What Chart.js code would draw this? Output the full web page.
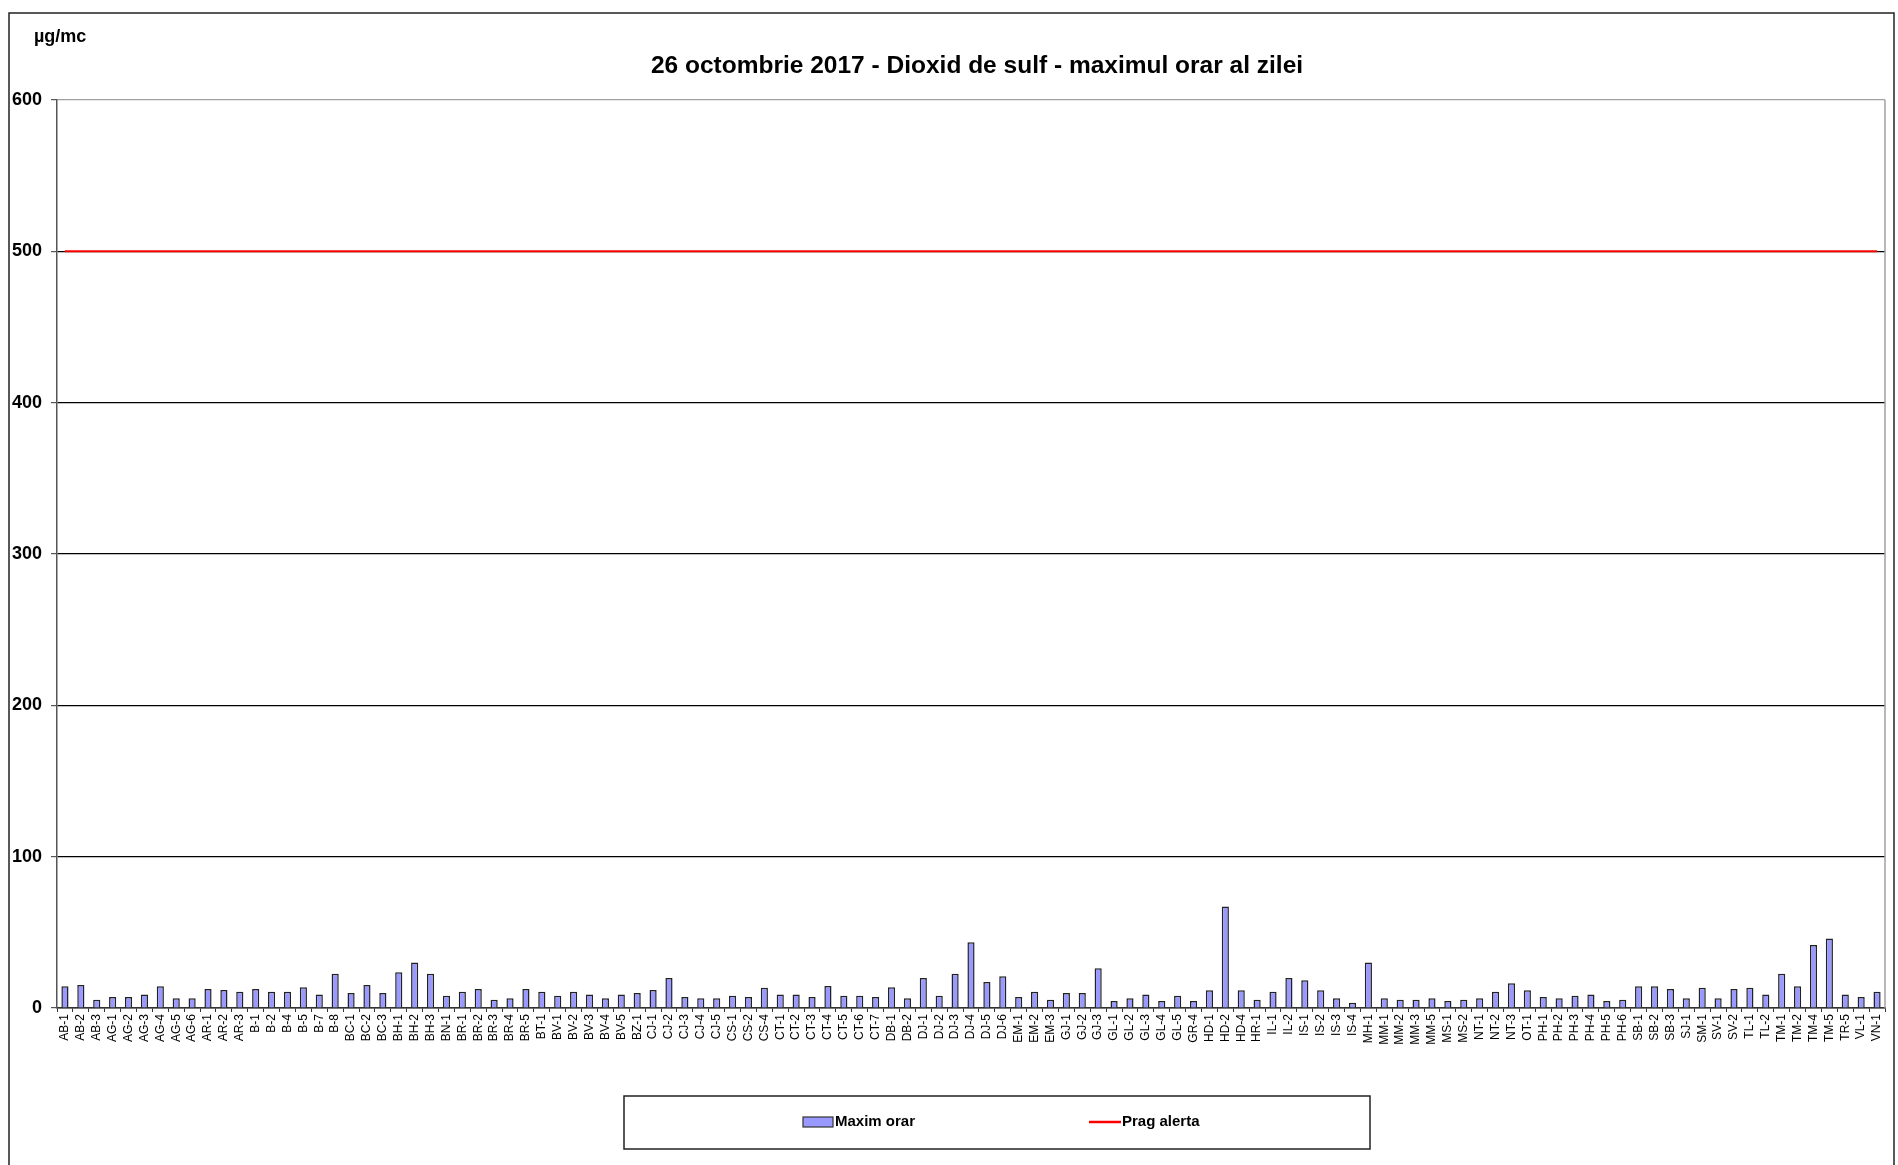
<!DOCTYPE html>
<html>
<head>
<meta charset="utf-8">
<title>Dioxid de sulf - maximul orar al zilei</title>
<script src="https://cdn.jsdelivr.net/npm/chart.js@4.4.0/dist/chart.umd.min.js"></script>
<style>
  html, body { margin: 0; padding: 0; background: #fff; }
  #wrap { width: 1898px; height: 1165px; position: relative; }
</style>
</head>
<body>
<div id="wrap"><canvas id="so2Chart" width="1898" height="1165"></canvas></div>
<script>
// statii de monitorizare (axa X)
const stations = [
  'AB-1','AB-2','AB-3','AG-1','AG-2','AG-3','AG-4','AG-5','AG-6','AR-1','AR-2','AR-3',
  'B-1','B-2','B-4','B-5','B-7','B-8','BC-1','BC-2','BC-3','BH-1','BH-2','BH-3','BN-1',
  'BR-1','BR-2','BR-3','BR-4','BR-5','BT-1','BV-1','BV-2','BV-3','BV-4','BV-5','BZ-1',
  'CJ-1','CJ-2','CJ-3','CJ-4','CJ-5','CS-1','CS-2','CS-4','CT-1','CT-2','CT-3','CT-4',
  'CT-5','CT-6','CT-7','DB-1','DB-2','DJ-1','DJ-2','DJ-3','DJ-4','DJ-5','DJ-6','EM-1',
  'EM-2','EM-3','GJ-1','GJ-2','GJ-3','GL-1','GL-2','GL-3','GL-4','GL-5','GR-4','HD-1',
  'HD-2','HD-4','HR-1','IL-1','IL-2','IS-1','IS-2','IS-3','IS-4','MH-1','MM-1','MM-2',
  'MM-3','MM-5','MS-1','MS-2','NT-1','NT-2','NT-3','OT-1','PH-1','PH-2','PH-3','PH-4',
  'PH-5','PH-6','SB-1','SB-2','SB-3','SJ-1','SM-1','SV-1','SV-2','TL-1','TL-2','TM-1',
  'TM-2','TM-4','TM-5','TR-5','VL-1','VN-1'
];

// maxim orar (ug/mc)
const maximOrar = [
  14.3, 15.2, 5.5, 7.3, 7.3, 9, 14.3, 6.4, 6.4, 12.6, 11.9, 10.8,
  12.6, 10.8, 10.8, 13.7, 9, 22.7, 9.9, 15.2, 9.9, 23.6, 30, 22.7, 8.1,
  10.8, 12.6, 5.5, 6.4, 12.6, 10.8, 8.1, 10.8, 9, 6.4, 9, 9.9,
  11.9, 19.8, 7.3, 6.4, 6.4, 8.1, 7.3, 13.4, 9, 9, 7.3, 14.5,
  8.1, 8.1, 7.3, 13.7, 6.4, 19.8, 8.1, 22.7, 43.4, 17.2, 20.9, 7.3,
  10.8, 5.5, 9.9, 9.9, 26.2, 4.6, 6.4, 9, 4.6, 8.1, 4.6, 11.7,
  67, 11.7, 5.5, 10.8, 19.8, 18.3, 11.7, 6.4, 3.5, 30, 6.4, 5.5,
  5.5, 6.4, 4.6, 5.5, 6.4, 10.8, 16.3, 11.7, 7.3, 6.4, 8.1, 9,
  4.6, 5.5, 14.3, 14.3, 12.6, 6.4, 13.4, 6.4, 12.6, 13.4, 9, 22.7,
  14.3, 41.6, 46, 9, 7.3, 10.8
];

// prag de alerta
const pragAlerta = stations.map(() => 500);

const yTicks = [0, 100, 200, 300, 400, 500, 600];

const titleText = '26 octombrie 2017 - Dioxid de sulf - maximul orar al zilei';
const unitText = 'µg/mc';

const NARROW = '"Liberation Sans Narrow", "Arial Narrow", "Liberation Sans", sans-serif';
const REGULAR = '"Liberation Sans", Arial, sans-serif';

// frame, title, unit, right border, legend
const decorPlugin = {
  id: 'decor',
  beforeDraw(chart) {
    const c = chart.ctx;
    c.save();
    c.fillStyle = '#fff';
    c.fillRect(0, 0, chart.width, chart.height);
    c.restore();
  },
  afterDraw(chart) {
    const c = chart.ctx;
    const a = chart.chartArea;
    c.save();

    // outer frame (no bottom edge visible)
    c.strokeStyle = '#222';
    c.lineWidth = 1.5;
    c.beginPath();
    c.moveTo(9, chart.height);
    c.lineTo(9, 13);
    c.lineTo(1894, 13);
    c.lineTo(1894, chart.height);
    c.stroke();

    // right border of plot area
    c.strokeStyle = '#a0a0a0';
    c.lineWidth = 1.5;
    c.beginPath();
    c.moveTo(a.right, a.top);
    c.lineTo(a.right, a.bottom);
    c.stroke();

    // title
    c.fillStyle = '#000';
    c.textAlign = 'center';
    c.textBaseline = 'middle';
    c.font = 'bold 24.5px ' + NARROW;
    c.fillText(titleText, 977, 66);

    // unit
    c.textAlign = 'left';
    c.font = 'bold 18px ' + NARROW;
    c.fillText(unitText, 34, 37);

    // legend box
    c.strokeStyle = '#222';
    c.lineWidth = 1.5;
    c.strokeRect(624, 1096, 746, 53);

    const ly = 1122;
    const bar = chart.data.datasets[0];
    const line = chart.data.datasets[1];
    c.fillStyle = bar.backgroundColor;
    c.fillRect(803, ly - 5, 30, 10);
    c.strokeStyle = '#333';
    c.lineWidth = 1.2;
    c.strokeRect(803, ly - 5, 30, 10);
    c.fillStyle = '#000';
    c.font = 'bold 15px ' + NARROW;
    c.fillText(bar.label, 835, ly);

    c.strokeStyle = line.borderColor;
    c.lineWidth = 2.5;
    c.beginPath();
    c.moveTo(1089, ly);
    c.lineTo(1121, ly);
    c.stroke();
    c.fillText(line.label, 1122, ly);

    c.restore();
  }
};

new Chart(document.getElementById('so2Chart').getContext('2d'), {
  data: {
    labels: stations,
    datasets: [
      {
        type: 'bar',
        label: 'Maxim orar',
        data: maximOrar,
        backgroundColor: '#9999ff',
        borderColor: '#222',
        borderWidth: 1.5,
        barPercentage: 0.45,
        categoryPercentage: 1,
        order: 2
      },
      {
        type: 'line',
        label: 'Prag alerta',
        data: pragAlerta,
        borderColor: '#ff0000',
        borderWidth: 2,
        pointRadius: 0,
        fill: false,
        order: 1
      }
    ]
  },
  options: {
    responsive: false,
    animation: false,
    layout: { padding: { left: 10, top: 100, right: 13, bottom: 0 } },
    plugins: {
      legend: { display: false },
      title: { display: false },
      tooltip: { enabled: false }
    },
    scales: {
      x: {
        offset: true,
        afterFit: s => { s.height = 157; },
        grid: {
          offset: true,
          drawOnChartArea: false,
          drawTicks: true,
          tickLength: 4,
          color: '#333'
        },
        border: { color: '#333', width: 1.5 },
        ticks: {
          autoSkip: false,
          maxRotation: 90,
          minRotation: 90,
          padding: 2,
          color: '#000',
          font: { family: REGULAR, size: 12 }
        }
      },
      y: {
        min: 0,
        max: 600,
        afterFit: s => { s.width = 47; },
        afterBuildTicks: s => { s.ticks = yTicks.map(v => ({ value: v })); },
        grid: {
          color: ctx => (ctx.tick && ctx.tick.value === 600) ? '#a0a0a0' : '#000',
          lineWidth: 1.2,
          tickLength: 6,
          tickColor: '#555'
        },
        border: { color: '#555', width: 1.5 },
        ticks: {
          padding: 9,
          color: '#000',
          font: { family: NARROW, size: 18, weight: 'bold' }
        }
      }
    }
  },
  plugins: [decorPlugin]
});
</script>
</body>
</html>
